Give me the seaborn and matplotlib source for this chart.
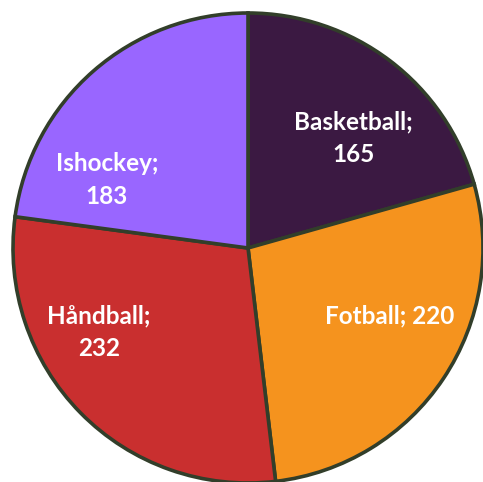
import matplotlib
matplotlib.use("Agg")
import matplotlib.pyplot as plt
import seaborn as sns
import numpy as np

categories = ["Basketball", "Fotball", "Håndball", "Ishockey"]
values = [165, 220, 232, 183]
colors = ["#3b1942", "#f5931e", "#c92f2f", "#9966ff"]
label_lines = ["Basketball;\n165", "Fotball; 220", "Håndball;\n232", "Ishockey;\n183"]
label_pos = [(0.447, 0.466), (0.604, -0.289), (-0.634, -0.357), (-0.600, 0.289)]

sns.set_style("white")
plt.rcParams['font.family'] = ['Lato', 'DejaVu Sans']

fig = plt.figure(figsize=(4.83, 4.82), dpi=100)
ax = fig.add_axes([13/483, -1/482, 470/483, 470/482])
wedges, _ = ax.pie(values, colors=colors, startangle=90, counterclock=False,
                   radius=1.0,
                   wedgeprops=dict(edgecolor="#323e2a", linewidth=2.6))
for txt, (x, y) in zip(label_lines, label_pos):
    ax.text(x, y, txt, ha="center", va="center", color="white",
            fontsize=17.5, fontweight="bold", linespacing=1.5)
ax.set_xlim(-1, 1)
ax.set_ylim(-1, 1)
ax.set_aspect("equal")
ax.axis("off")
fig.savefig("out.png", dpi=100)
